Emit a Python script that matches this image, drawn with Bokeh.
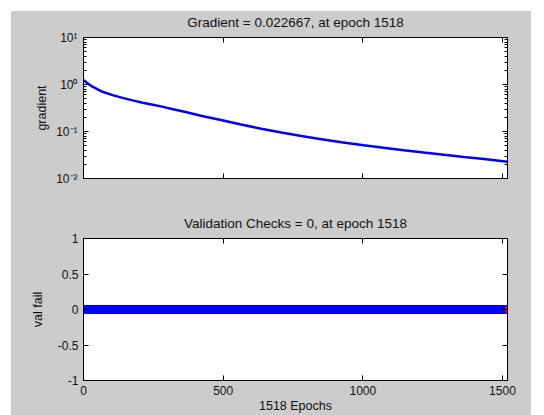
from bokeh.plotting import figure
from bokeh.models import Range1d, LinearAxis, LogAxis, FixedTicker, CustomJSTickFormatter
from bokeh.layouts import column
from bokeh.embed import file_html
from bokeh.resources import INLINE

# ---- data ----
grad_epochs = [0, 13, 32, 68, 104, 140, 176, 212, 248, 277, 325, 373, 420, 492,
               564, 636, 708, 780, 852, 923, 1003, 1074, 1146, 1218, 1290,
               1362, 1434, 1518]
grad_values = [1.24, 1.08, 0.90, 0.70, 0.595, 0.52, 0.46, 0.41, 0.372, 0.342,
               0.295, 0.253, 0.217, 0.175, 0.141, 0.1146, 0.0952, 0.0803,
               0.0687, 0.0593, 0.0510, 0.0449, 0.0400, 0.0357, 0.0319, 0.0287,
               0.0259, 0.022667]

val_epochs = list(range(0, 1519))
val_fail = [0] * len(val_epochs)
best_epoch = [1518]
best_val = [0]

x_ticks = [0, 500, 1000, 1500]
log_ticks = [0.01, 0.1, 1, 10]
log_labels = {0.01: "10\u207b\u00b2", 0.1: "10\u207b\u00b9", 1: "10\u2070", 10: "10\u00b9"}
log_minor = [k * 10.0 ** e for e in (-2, -1, 0) for k in range(2, 10)]
val_ticks = [-1, -0.5, 0, 0.5, 1]
val_labels = {-1: "-1", -0.5: "-0.5", 0: "0", 0.5: "0.5", 1: "1"}

FONT = "Liberation Sans"
TICK_FS = "12px"
LABEL_FS = "12.5px"
TITLE_FS = "13.5px"
GRAY = "#cccccc"
TXT = "#111111"


def style_fig(p):
    p.border_fill_color = GRAY
    p.background_fill_color = "white"
    p.outline_line_color = "black"
    p.outline_line_width = 1
    p.grid.visible = False


def style_axis(ax, show, minor=False):
    ax.major_tick_in = 5
    ax.major_tick_out = 0
    ax.minor_tick_in = 3 if minor else 0
    ax.minor_tick_out = 0
    ax.axis_line_color = "black"
    ax.major_tick_line_color = "black"
    ax.minor_tick_line_color = "black"
    ax.major_label_text_font = FONT
    ax.major_label_text_color = TXT
    ax.major_label_text_line_height = 1.0
    if show:
        ax.major_label_text_font_size = TICK_FS
        ax.major_label_standoff = 5
    else:
        ax.formatter = CustomJSTickFormatter(code="return ''")
        ax.major_label_text_font_size = "1px"
        ax.major_label_standoff = 0
    ax.axis_label_text_font = FONT
    ax.axis_label_text_font_size = LABEL_FS
    ax.axis_label_text_font_style = "normal"
    ax.axis_label_text_color = TXT
    ax.axis_label_text_line_height = 1.0


# ---- top: gradient ----
p1 = figure(width=520, height=200, x_range=Range1d(0, 1518), y_range=Range1d(0.01, 10),
            y_axis_type="log", output_backend="svg", toolbar_location=None,
            min_border_left=72, min_border_right=24, min_border_top=25, min_border_bottom=33)
style_fig(p1)
p1.line(grad_epochs, grad_values, line_color="#0000ff", line_width=2.5)

xa = p1.xaxis[0]
xa.ticker = FixedTicker(ticks=x_ticks)
style_axis(xa, False)
ya = p1.yaxis[0]
ya.ticker = FixedTicker(ticks=log_ticks, minor_ticks=log_minor)
ya.major_label_overrides = log_labels
style_axis(ya, True, minor=True)
ya.major_label_standoff = 6
ya.axis_label = "gradient"
ya.axis_label_standoff = 4

top_ax = LinearAxis(ticker=FixedTicker(ticks=x_ticks))
style_axis(top_ax, False)
top_ax.axis_label = f"Gradient = {grad_values[-1]}, at epoch {grad_epochs[-1]}"
top_ax.axis_label_text_font_size = TITLE_FS
top_ax.axis_label_standoff = 8
p1.add_layout(top_ax, "above")
right_ax = LogAxis(ticker=FixedTicker(ticks=log_ticks, minor_ticks=log_minor))
style_axis(right_ax, False, minor=True)
p1.add_layout(right_ax, "right")

# ---- bottom: validation checks ----
p2 = figure(width=520, height=204, x_range=Range1d(0, 1518), y_range=Range1d(-1, 1),
            output_backend="svg", toolbar_location=None,
            min_border_left=72, min_border_right=24, min_border_top=27, min_border_bottom=35)
style_fig(p2)
p2.scatter(val_epochs, val_fail, marker="diamond", size=9,
           fill_color="#0000ff", line_color="#0000ff", line_width=1)
p2.scatter(best_epoch, best_val, marker="diamond", size=9,
           fill_color="#ff0000", line_color="#ff0000")

xb = p2.xaxis[0]
xb.ticker = FixedTicker(ticks=x_ticks)
style_axis(xb, True)
xb.major_label_standoff = 5
xb.axis_label = f"{val_epochs[-1]} Epochs"
xb.axis_label_standoff = 1
yb = p2.yaxis[0]
yb.ticker = FixedTicker(ticks=val_ticks)
yb.major_label_overrides = val_labels
style_axis(yb, True)
yb.axis_label = "val fail"
yb.axis_label_standoff = 10

top_b = LinearAxis(ticker=FixedTicker(ticks=x_ticks))
style_axis(top_b, False)
top_b.axis_label = f"Validation Checks = {val_fail[-1]}, at epoch {val_epochs[-1]}"
top_b.axis_label_text_font_size = TITLE_FS
top_b.axis_label_standoff = 8
p2.add_layout(top_b, "above")
right_b = LinearAxis(ticker=FixedTicker(ticks=val_ticks))
style_axis(right_b, False)
p2.add_layout(right_b, "right")

layout = column(p1, p2, margin=(11, 0, 0, 11), spacing=0,
                styles={"background-color": GRAY})

open("out.html", "w").write(file_html(layout, INLINE))
